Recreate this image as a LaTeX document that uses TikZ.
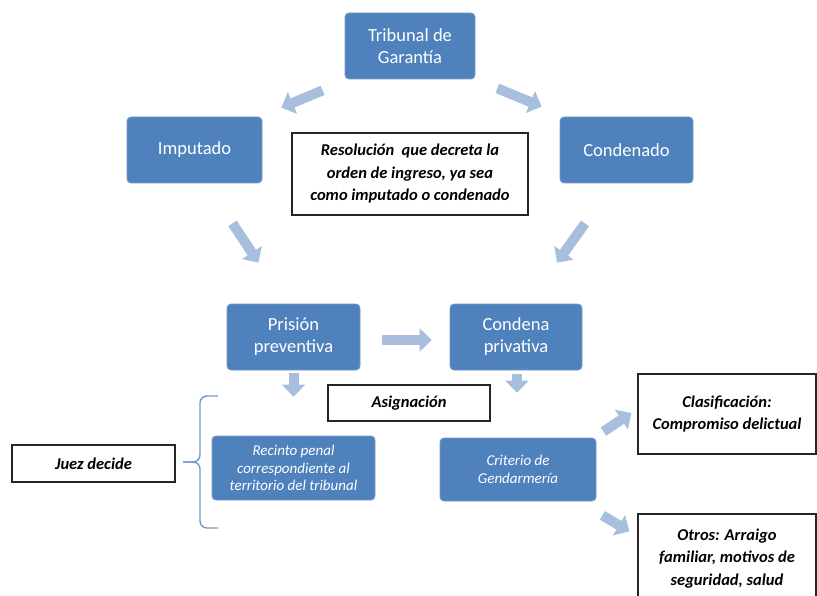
\documentclass[tikz,border=0pt]{standalone}
\usepackage{fontspec}
\setmainfont{Carlito}
\usepackage{tikz}
\usetikzlibrary{positioning, arrows.meta}
\definecolor{boxblue}{HTML}{4F81BD}
\definecolor{arrowblue}{HTML}{A7BEDD}

\begin{document}
\begin{tikzpicture}[x=1pt, y=-1pt,
    bluebox/.style={rectangle, rounded corners=4pt, fill=boxblue, draw=boxblue!80!white, line width=0.8pt,
        text=white, align=center, minimum height=66pt, font=\fontsize{18.5}{22}\selectfont},
    smallblue/.style={bluebox, minimum height=64pt, font=\fontsize{15}{17.5}\selectfont\itshape},
    whitebox/.style={rectangle, draw=black!85, line width=1.3pt, fill=white, align=center,
        font=\fontsize{16.5}{22.5}\selectfont\bfseries\itshape},
    bigarrow/.style={draw=arrowblue, line width=10pt, -{Triangle[length=12pt, width=23pt]}},
    bracestyle/.style={draw=boxblue!80!white, line width=1.4pt, rounded corners=7pt}]
        \path[use as bounding box, clip] (0,0) rectangle (817,596);
        \node[bluebox, minimum width=130pt] (trib) at (410,46) {Tribunal de\\Garantía};
        \node[bluebox, minimum width=135pt] (imp) at (194.5,150) {Imputado};
        \node[bluebox, minimum width=133pt] (cond) at (626.5,150) {Condenado};
        \node[whitebox, minimum width=236pt, minimum height=82pt] (resol) at (410,174)
            {Resolución~ que decreta la\\orden de ingreso, ya sea\\como imputado o condenado};
        \node[bluebox, minimum width=133pt] (prision) at (293.5,337) {Prisión\\preventiva};
        \node[bluebox, minimum width=132pt] (condena) at (516,337) {Condena\\privativa};
        \node[whitebox, minimum width=162pt, minimum height=36pt] (asig) at (409,403) {Asignación};
        \node[whitebox, minimum width=163pt, minimum height=37pt] (juez) at (93.5,463.5) {Juez decide};
        \node[smallblue, minimum width=163pt] (recinto) at (293.5,468)
            {Recinto penal\\correspondiente al\\territorio del tribunal};
        \node[smallblue, minimum width=156pt, minimum height=63pt] (criterio) at (518,469.5)
            {Criterio de\\Gendarmería};
        \node[whitebox, minimum width=178pt, minimum height=80pt] (clasif) at (727,414)
            {Clasificación:\\Compromiso delictual};
        \node[whitebox, minimum width=178pt, minimum height=96pt, text depth=10pt] (otros) at (727,562)
            {Otros: Arraigo\\familiar, motivos de\\seguridad, salud};
        \draw[bigarrow] ([shift={(-22,11)}]trib.south west) -- ([shift={(19,-9)}]imp.north east);
        \draw[bigarrow] ([shift={(22,9)}]trib.south east) -- ([shift={(-18,-10)}]cond.north west);
        \draw[bigarrow] ([shift={(38,40)}]imp.south) -- ([shift={(-35,-41)}]prision.north);
        \draw[bigarrow] ([shift={(-41.5,40)}]cond.south) -- ([shift={(41,-41)}]condena.north);
        \draw[bigarrow] ([shift={(22,3)}]prision.east) -- ([shift={(-18,3)}]condena.west);
        \draw[bigarrow] ([shift={(0,3)}]prision.south) -- ([shift={(0,-39)}]recinto.north);
        \draw[bigarrow] ([shift={(1,4)}]condena.south) -- ([shift={(-1,-45)}]criterio.north);
        \draw[bigarrow] ([shift={(7,-6)}]criterio.north east) -- ([shift={(-6,-1)}]clasif.west);
        \draw[bigarrow] ([shift={(6,14)}]criterio.south east) -- ([shift={(-8,18)}]otros.north west);
        % brace
        \coordinate (bracetop) at (218,396);
        \coordinate (bracebot) at (218,528);
        \coordinate (bracetip) at (183,462);
        \draw[bracestyle] (bracetop) -- (200,396) -- (200,462) -- (bracetip);
        \draw[bracestyle] (bracetip) -- (200,462) -- (200,528) -- (bracebot);
    \end{tikzpicture}
\end{document}
